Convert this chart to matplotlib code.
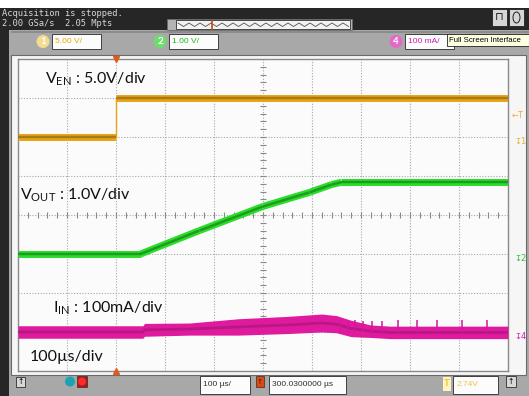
import numpy as np
import matplotlib
matplotlib.use('agg')
import matplotlib.pyplot as plt
from matplotlib.patches import Rectangle, Ellipse

plt.rcParams['font.family'] = ['Lato', 'DejaVu Sans']
plt.rcParams['mathtext.fontset'] = 'custom'
plt.rcParams['mathtext.rm'] = 'Lato'

W, H = 529, 396

# time axis in µs relative to the trigger (100 µs/div)
t_min, t_max = -200, 800

# channel 1: V_EN (V)
ven_t = [-200, 0, 0, 800]
ven_v = [0.0, 0.0, 5.0, 5.0]

# channel 2: V_OUT (V)
vout_t = [-200, 50, 170, 300, 395, 440, 460, 800]
vout_v = [0.0, 0.0, 0.60, 1.22, 1.58, 1.78, 1.84, 1.84]

# channel 4: I_IN (mA), lower / upper edge of the noisy trace
iin_t = [-200, 55, 58, 150, 250, 350, 420, 450, 480, 520, 560, 800]
iin_lo = [-16, -16, -11, -8, -8, -4, 0, -2, -12, -14, -17, -17]
iin_hi = [16, 16, 22, 23, 34, 40, 46, 42, 30, 18, 15, 15]

# ripple spikes on I_IN once the output is in regulation
spike_t = [457, 473, 488, 504, 522, 543, 576, 614, 655, 706, 757]
spike_hi = [32, 30, 31, 28, 27, 29, 31, 31, 30, 31, 30]

# channel settings: screen offset (div), scale (unit/div)
ven_off, ven_scale = 6.0, 5.0
vout_off, vout_scale = 3.0, 1.0
iin_off, iin_scale = 1.0, 100.0
trig_level = 2.74

labels = [r'V$_{\mathregular{EN}}$ : 5.0V/div',
          r'V$_{\mathregular{OUT}}$ : 1.0V/div',
          r'I$_{\mathregular{IN}}$ : 100mA/div',
          '100µs/div']


def to_div(vals, off, scale):
    return off + np.asarray(vals, dtype=float) / scale


def fx(x):
    return x / W


def fy(y):
    return 1 - y / H


def rect(x0, y0, x1, y1, fc, ec='none', lw=0.8, z=1):
    fig.patches.append(Rectangle((fx(x0), fy(y1)), (x1 - x0) / W, (y1 - y0) / H,
                                 transform=fig.transFigure, fc=fc, ec=ec, lw=lw, zorder=z))


def ftext(x, y, s, **kw):
    kw.setdefault('va', 'center')
    kw.setdefault('ha', 'left')
    fig.text(fx(x), fy(y), s, **kw)


def circ(x, y, r, fc, z=2):
    fig.patches.append(Ellipse((fx(x), fy(y)), 2 * r / W, 2 * r / H,
                               transform=fig.transFigure, fc=fc, ec='none', zorder=z))


fig = plt.figure(figsize=(W / 100, H / 100), dpi=100)
fig.patch.set_facecolor('#a8a8a8')

# --- scope frame ---
rect(0, 0, W, 8, '#ffffff')
rect(0, 8, W, 30, '#262626')
rect(0, 30, 9, H, '#262626')
rect(11, 31, W, 33, '#8c8c8c')
rect(11, 55, 526, 375, '#f6f6f6', ec='#6a6a6a', lw=0.8)

mono = dict(family='DejaVu Sans Mono', fontsize=6.3, color='#d8d8d8')
ftext(2, 13, 'Acquisition is stopped.', **mono)
ftext(2, 24, '2.00 GSa/s  2.05 Mpts', **mono)

# timebase widget
rect(167, 19, 352, 30, '#b4b4b4', ec='#6a6a6a', lw=0.6)
rect(176, 20, 350, 29, '#f2f2f2', ec='#303030', lw=0.6, z=2)
zx = np.arange(178, 349, 5.5)
zy = np.where(np.arange(zx.size) % 2 == 0, 23.0, 26.5)
fig.lines.append(plt.Line2D(fx(zx), fy(zy), transform=fig.transFigure,
                            color='#505050', lw=0.6, zorder=3))
fig.lines.append(plt.Line2D([fx(212), fx(212)], [fy(20.5), fy(28.5)],
                            transform=fig.transFigure, color='#d04010', lw=1.2, zorder=4))

# top right icons
rect(492, 9, 507, 26, '#d6d6d6', ec='#202020', lw=0.6)
rect(509, 9, 524, 26, '#d6d6d6', ec='#202020', lw=0.6)
ftext(499.5, 17.5, '⊓', ha='center', fontsize=8, family='DejaVu Sans', color='#202020')
fig.patches.append(Ellipse((fx(516.5), fy(17.5)), 7 / W, 11 / H, transform=fig.transFigure,
                           fc='none', ec='#202020', lw=0.7, zorder=3))

# channel boxes
small = dict(family='Liberation Sans', fontsize=6)
for cx, num, ccol, tcol, txt in [(43, '1', '#f3dc8e', '#e0a800', '5.00 V/'),
                                 (160, '2', '#6fdc6f', '#18b818', '1.00 V/'),
                                 (396, '4', '#e36ac6', '#d01cb0', '100 mA/')]:
    circ(cx, 41.5, 6.5, ccol)
    ftext(cx, 42, num, ha='center', color='white', fontsize=7, fontweight='bold', zorder=3)
    rect(cx + 9, 34, cx + 58, 49, '#fcfcfc', ec='#404040', lw=0.7)
    ftext(cx + 12, 41.5, txt, color=tcol, **small)

rect(447, 34, 529, 46, '#ffffe1', ec='#202020', lw=0.6, z=3)
ftext(449, 40, 'Full Screen Interface', color='black', zorder=4,
      family='Liberation Sans', fontsize=5.6)

# bottom bar
rect(16, 377, 25, 387, '#d8d8d8', ec='#303030', lw=0.6)
ftext(20.5, 382, '↑', ha='center', fontsize=5.5, family='DejaVu Sans', zorder=3)
rect(506, 376, 516, 387, '#d8d8d8', ec='#303030', lw=0.6)
ftext(511, 381.5, '↑', ha='center', fontsize=5.5, family='DejaVu Sans', zorder=3)
circ(70, 381.5, 5, '#1aa3b3')
rect(77, 376, 87, 387, '#b01818', ec='#303030', lw=0.5)
circ(82, 381.5, 4, '#ff2a2a', z=3)
rect(200, 376, 250, 394, '#fcfcfc', ec='#404040', lw=0.7)
ftext(203, 385, '100 µs/', color='#303030', **small)
rect(256, 376, 264, 387, '#e04810', ec='#303030', lw=0.5)
ftext(260, 381.5, '↑', ha='center', fontsize=5, family='DejaVu Sans', color='#202020', zorder=3)
rect(269, 376, 346, 394, '#fcfcfc', ec='#404040', lw=0.7)
ftext(272, 385, '300.0300000 µs', color='#303030', **small)
rect(443, 377, 451, 391, '#fff3c0', ec='none')
ftext(447, 384, 'T', ha='center', color='#f0c030', fontsize=7, fontweight='bold', zorder=3)
rect(453, 376, 498, 394, '#fcfcfc', ec='#404040', lw=0.7)
ftext(457, 385, '2.74V', color='#f0c040', **small)

# --- graticule ---
ax = fig.add_axes([fx(18), fy(371), 490 / W, 312 / H])
ax.set_zorder(5)
ax.set_facecolor('#fbfbfb')
ax.set_xlim(t_min, t_max)
ax.set_ylim(0, 8)
ax.set_xticks(np.arange(t_min, t_max + 1, 100))
ax.set_yticks(np.arange(0, 9))
ax.grid(True, color='#a8a8a8', ls=(0, (1, 1.5)), lw=0.8)
ax.tick_params(length=0, labelbottom=False, labelleft=False)
for s in ax.spines.values():
    s.set_color('#8a8a8a')
    s.set_linewidth(1.0)

tc = (t_min + t_max) / 2
yy = np.arange(0, 8.001, 0.2)
ax.plot(np.full_like(yy, tc), yy, ls='none', marker='_', ms=4, mew=0.8, color='#8a8a8a')
xx = np.arange(t_min, t_max + 1, 20.0)
ax.plot(xx, np.full_like(xx, 4.0), ls='none', marker='|', ms=4, mew=0.8, color='#8a8a8a')


def band(t, v, bright, dark, lw):
    # thick noisy-looking trace, thin on vertical edges
    for i in range(len(t) - 1):
        seg_t = [t[i], t[i + 1]]
        seg_v = [v[i], v[i + 1]]
        if t[i] == t[i + 1]:
            ax.plot(seg_t, seg_v, color=bright, lw=1.0, zorder=3)
        else:
            ax.plot(seg_t, seg_v, color=bright, lw=lw, solid_capstyle='butt', zorder=3)
            ax.plot(seg_t, seg_v, color=dark, lw=lw * 0.35, alpha=0.55,
                    solid_capstyle='butt', zorder=4)


band(ven_t, to_div(ven_v, ven_off, ven_scale), '#e8a317', '#7a5a10', 5)
band(vout_t, to_div(vout_v, vout_off, vout_scale), '#2cdc2c', '#0f6a0f', 5)

lo = to_div(iin_lo, iin_off, iin_scale)
hi = to_div(iin_hi, iin_off, iin_scale)
ax.fill_between(iin_t, lo, hi, color='#e01a9e', lw=0, zorder=3)
ax.plot(iin_t, (lo + hi) / 2, color='#8a1466', lw=2.0, alpha=0.45, zorder=4)
ax.vlines(spike_t, iin_off, to_div(spike_hi, iin_off, iin_scale), color='#d0189a',
          lw=1.1, zorder=4)

# trigger position markers
ax.plot([0], [8], marker='v', ms=4.5, color='#e05a20', clip_on=False, zorder=5)
ax.plot([0], [0], marker='^', ms=4.5, color='#e05a20', clip_on=False, zorder=5)

# right-hand level markers
yt = ax.get_yaxis_transform()
ax.text(1.008, ven_off + trig_level / ven_scale, '←T', transform=yt, va='center',
        fontsize=6, family='DejaVu Sans', color='#e8b030', clip_on=False)
for off, col, num in [(ven_off, '#e8b030', '1'), (vout_off, '#30c030', '2'),
                      (iin_off, '#d020b0', '4')]:
    ax.text(1.012, off, '↧' + num, transform=yt, va='top', fontsize=6,
            family='DejaVu Sans', color=col, clip_on=False)

# annotations
lab_font = dict(fontsize=11.5, color='#111111', va='center', ha='left', zorder=10)
ftext(45, 79, labels[0], **lab_font)
ftext(20, 195, labels[1], **lab_font)
ftext(53, 308, labels[2], **lab_font)
ftext(30, 357, labels[3], **lab_font)

fig.savefig('out.png', dpi=100, facecolor=fig.get_facecolor())
